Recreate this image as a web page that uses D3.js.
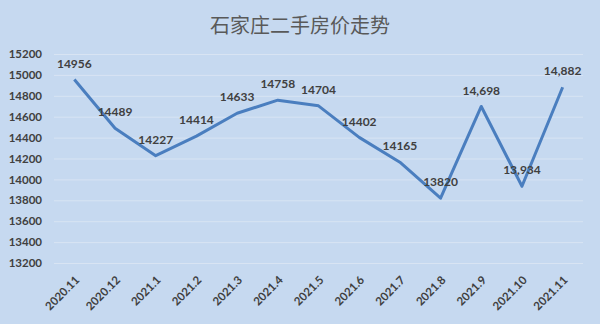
<!DOCTYPE html>
<html>
<head>
<meta charset="utf-8">
<style>
    body { margin: 0; background: #c6d9f0; }
    svg { display: block; }
    .tick text { font-family: Lato, "Liberation Sans", sans-serif; font-weight: bold; fill: #404040; }
</style>
<script src="https://cdn.jsdelivr.net/npm/d3@7/dist/d3.min.js"></script>
</head>
<body>
<svg id="chart"></svg>
<script>
    // values
    let months = ["2020.11", "2020.12", "2021.1", "2021.2", "2021.3", "2021.4", "2021.5",
        "2021.6", "2021.7", "2021.8", "2021.9", "2021.10", "2021.11"]
    let prices = [14956, 14489, 14227, 14414, 14633, 14758, 14704, 14402, 14165, 13820, 14698, 13934, 14882]
    let priceLabels = ["14956", "14489", "14227", "14414", "14633", "14758", "14704",
        "14402", "14165", "13820", "14,698", "13,934", "14,882"]
    let yTicks = [13200, 13400, 13600, 13800, 14000, 14200, 14400, 14600, 14800, 15000, 15200]

    let width = 600
    let height = 324
    let margin = { top: 54, bottom: 61, left: 54, right: 17 }

    let svg = d3.select("#chart")
        .attr("width", width)
        .attr("height", height)

    svg.append("rect")
        .attr("width", width)
        .attr("height", height)
        .attr("fill", "#c6d9f0")

    svg.append("text")
        .attr("x", 300)
        .attr("y", 33)
        .attr("text-anchor", "middle")
        .style("font-family", "'Noto Sans CJK SC', sans-serif")
        .style("font-size", "20px")
        .attr("fill", "#595959")
        .text("石家庄二手房价走势")

    let x = d3.scaleBand()
        .domain(months)
        .range([margin.left, width - margin.right])

    let y = d3.scaleLinear()
        .domain([13200, 15200])
        .range([height - margin.bottom, margin.top])

    // y axis + gridlines
    let axisY = d3.axisLeft(y)
        .tickValues(yTicks)
        .tickFormat(d3.format("d"))
        .tickSizeInner(-(width - margin.left - margin.right))
        .tickSizeOuter(0)
        .tickPadding(12)

    let gy = svg.append("g")
        .attr("transform", `translate(${margin.left},0)`)
        .call(axisY)
    gy.select(".domain").remove()
    gy.selectAll(".tick line").attr("stroke", "#d8e4f3").attr("stroke-width", 1)
    gy.selectAll(".tick text").style("font-size", "11.5px")

    // x axis labels
    let axisX = d3.axisBottom(x).tickSize(0)
    let gx = svg.append("g")
        .attr("transform", `translate(0,${height - margin.bottom})`)
        .call(axisX)
    gx.select(".domain").remove()
    gx.selectAll(".tick text")
        .style("font-size", "11.5px")
        .attr("text-anchor", "end")
        .attr("y", 0)
        .attr("dy", "0.35em")
        .attr("transform", "translate(3,15) rotate(-45)")

    let cx = d => x(d) + x.bandwidth() / 2

    let line = d3.line()
        .x((d, i) => cx(months[i]))
        .y(d => y(d))

    svg.append("path")
        .datum(prices)
        .attr("fill", "none")
        .attr("stroke", "#4a7ebf")
        .attr("stroke-width", 3)
        .attr("stroke-linejoin", "round")
        .attr("d", line)

    svg.append("g")
        .selectAll("text")
        .data(prices)
        .enter().append("text")
        .attr("x", (d, i) => cx(months[i]))
        .attr("y", d => y(d) - 16)
        .attr("dy", "0.35em")
        .attr("text-anchor", "middle")
        .style("font-family", "Lato, 'Liberation Sans', sans-serif")
        .style("font-weight", "bold")
        .style("font-size", "12px")
        .attr("fill", "#404040")
        .text((d, i) => priceLabels[i])
</script>
</body>
</html>
